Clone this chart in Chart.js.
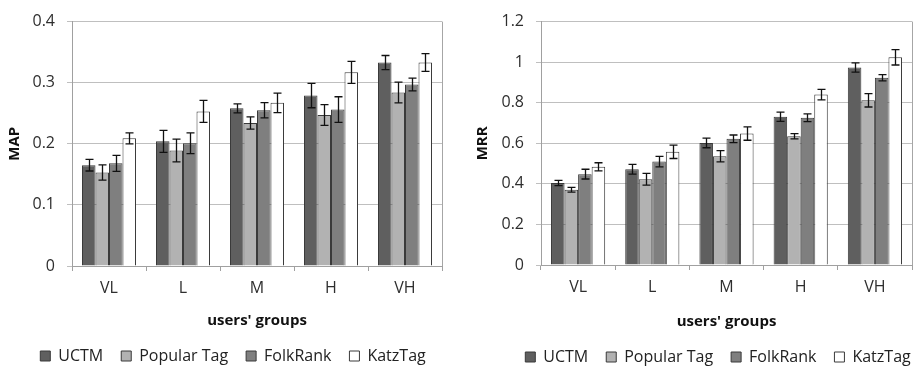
<!DOCTYPE html>
<html>
<head>
<meta charset="utf-8">
<script src="https://cdn.jsdelivr.net/npm/chart.js@4/dist/chart.umd.min.js"></script>
<style>
  html, body { margin: 0; padding: 0; background: #ffffff; }
  #wrap { position: relative; width: 919px; height: 366px; overflow: hidden; }
  .box { position: absolute; top: 0; height: 366px; }
  #b1 { left: 0; width: 460px; }
  #b2 { left: 460px; width: 459px; }
</style>
</head>
<body>
<div id="wrap">
  <div class="box" id="b1"><canvas id="c1" width="460" height="366"></canvas></div>
  <div class="box" id="b2"><canvas id="c2" width="459" height="366"></canvas></div>
</div>
<script>
// ---------- data ----------
const groups = ['VL', 'L', 'M', 'H', 'VH'];
const seriesNames = ['UCTM', 'Popular Tag', 'FolkRank', 'KatzTag'];
const seriesColors = ['#5f5f5f', '#b2b2b2', '#7f7f7f', '#ffffff'];

// MAP (left chart)
const mapUCTM       = [0.165, 0.204, 0.258, 0.279, 0.333];
const mapUCTMErr    = [0.0095, 0.018, 0.0075, 0.020, 0.0115];
const mapPopular    = [0.153, 0.189, 0.234, 0.247, 0.284];
const mapPopularErr = [0.0125, 0.0185, 0.010, 0.017, 0.017];
const mapFolk       = [0.168, 0.201, 0.255, 0.256, 0.297];
const mapFolkErr    = [0.013, 0.017, 0.0125, 0.021, 0.0105];
const mapKatz       = [0.209, 0.253, 0.267, 0.317, 0.333];
const mapKatzErr    = [0.009, 0.018, 0.016, 0.018, 0.0145];

// MRR (right chart)
const mrrUCTM       = [0.404, 0.472, 0.602, 0.731, 0.974];
const mrrUCTMErr    = [0.013, 0.024, 0.024, 0.023, 0.023];
const mrrPopular    = [0.371, 0.423, 0.536, 0.635, 0.812];
const mrrPopularErr = [0.012, 0.029, 0.028, 0.013, 0.033];
const mrrFolk       = [0.448, 0.510, 0.622, 0.726, 0.923];
const mrrFolkErr    = [0.024, 0.026, 0.019, 0.0195, 0.0155];
const mrrKatz       = [0.484, 0.558, 0.648, 0.840, 1.024];
const mrrKatzErr    = [0.020, 0.033, 0.033, 0.026, 0.038];

const mapMax = 0.4, mapStep = 0.1;
const mrrMax = 1.2, mrrStep = 0.2;

// ---------- helpers ----------
const FONT = "'Open Sans', 'DejaVu Sans', sans-serif";
const TXT = '#2e2e2e';

const errorBars = {
  id: 'errorBars',
  afterDatasetsDraw(chart) {
    const ctx = chart.ctx;
    const ys = chart.scales.y;
    ctx.save();
    ctx.strokeStyle = '#111111';
    ctx.lineWidth = 1.3;
    chart.data.datasets.forEach((ds, i) => {
      const meta = chart.getDatasetMeta(i);
      meta.data.forEach((bar, j) => {
        const v = ds.data[j], e = ds.errors[j];
        const x = Math.round(bar.x) + 0.5;
        const y1 = ys.getPixelForValue(v + e);
        const y2 = ys.getPixelForValue(v - e);
        ctx.beginPath();
        ctx.moveTo(x, y1); ctx.lineTo(x, y2);
        ctx.moveTo(x - 4, y1); ctx.lineTo(x + 4, y1);
        ctx.moveTo(x - 4, y2); ctx.lineTo(x + 4, y2);
        ctx.stroke();
      });
    });
    ctx.restore();
  }
};

const frame = {
  id: 'frame',
  afterLayout(chart, args, opts) {
    if (chart.legend && opts.legendShift) {
      chart.legend.left += opts.legendShift;
      chart.legend.right += opts.legendShift;
    }
  },
  beforeDatasetsDraw(chart) {
    const {ctx, chartArea} = chart;
    ctx.save();
    ctx.strokeStyle = '#a6a6a6';
    ctx.lineWidth = 1;
    ctx.beginPath();
    const x = Math.round(chartArea.right) + 0.5;
    ctx.moveTo(x, chartArea.top);
    ctx.lineTo(x, chartArea.bottom);
    ctx.stroke();
    ctx.restore();
  }
};

function makeChart(id, yTitle, vals, errs, yMax, yStep, L) {
  const datasets = seriesNames.map((name, i) => ({
    label: name,
    data: vals[i],
    errors: errs[i],
    backgroundColor: seriesColors[i],
    borderColor: '#3a3a3a',
    borderWidth: 1,
    categoryPercentage: 0.73,
    barPercentage: 1.0
  }));
  return new Chart(document.getElementById(id), {
    type: 'bar',
    data: { labels: groups, datasets },
    plugins: [errorBars, frame],
    options: {
      responsive: false,
      animation: false,
      events: [],
      layout: { padding: { left: 0, right: L.padRight, top: L.padTop, bottom: L.padBottom } },
      plugins: {
        tooltip: { enabled: false },
        frame: { legendShift: L.legendShift },
        legend: {
          position: 'bottom',
          labels: {
            boxWidth: 10, boxHeight: 10, padding: 18,
            color: '#222222',
            font: { family: FONT, size: 16 }
          }
        }
      },
      scales: {
        x: {
          grid: { display: true, drawOnChartArea: false, drawTicks: true, tickLength: 5, color: '#a0a0a0', offset: true },
          border: { display: true, color: '#a0a0a0' },
          ticks: { color: TXT, font: { family: FONT, size: 16 }, padding: 8 },
          title: { display: true, text: "users' groups", color: '#111111',
                   font: { family: FONT, size: 15, weight: 'bold', lineHeight: 1.2 },
                   padding: { top: 0, bottom: 0 } },
          afterFit: s => { s.height = L.xHeight; }
        },
        y: {
          min: 0, max: yMax,
          grid: { color: '#bfbfbf', drawTicks: true, tickLength: 5 },
          border: { display: true, color: '#a0a0a0' },
          ticks: { stepSize: yStep, color: TXT, font: { family: FONT, size: 16 }, padding: 12,
                   callback: v => String(+Number(v).toFixed(2)) },
          title: { display: true, text: yTitle, color: '#111111',
                   font: { family: FONT, size: 15, weight: 'bold', lineHeight: 1.2 },
                   padding: { top: L.yTitlePad, bottom: 0 } },
          afterFit: s => { s.width = L.yWidth; }
        }
      }
    }
  });
}

// legend height = 16 + 18 + 10 = 44 ; item centre = legendTop + 18 + 8
makeChart('c1', 'MAP',
  [mapUCTM, mapPopular, mapFolk, mapKatz],
  [mapUCTMErr, mapPopularErr, mapFolkErr, mapKatzErr],
  mapMax, mapStep,
  { padRight: 18, padTop: 15, padBottom: -8, xHeight: 64, yWidth: 72, yTitlePad: 6, legendShift: 12 });

makeChart('c2', 'MRR',
  [mrrUCTM, mrrPopular, mrrFolk, mrrKatz],
  [mrrUCTMErr, mrrPopularErr, mrrFolkErr, mrrKatzErr],
  mrrMax, mrrStep,
  { padRight: 7, padTop: 19, padBottom: -9, xHeight: 66, yWidth: 81, yTitlePad: 14, legendShift: 32 });
</script>
</body>
</html>
